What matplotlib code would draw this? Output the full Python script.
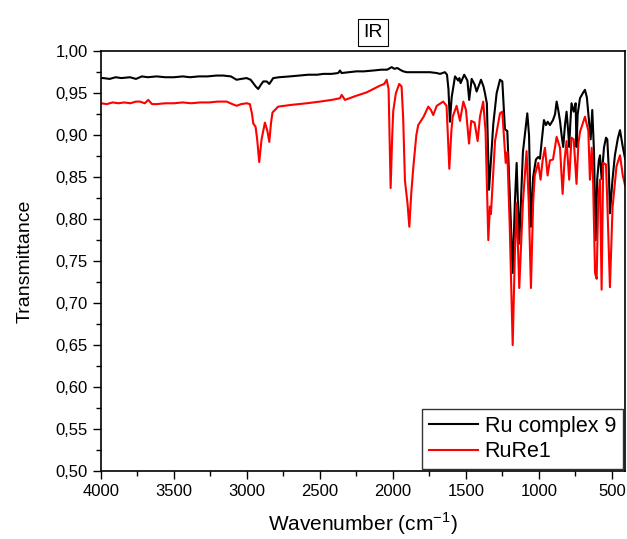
import matplotlib
matplotlib.use("Agg")
import matplotlib.pyplot as plt
from matplotlib.ticker import MultipleLocator, FuncFormatter

plt.rcParams['font.family'] = ['Liberation Sans', 'DejaVu Sans']
plt.rcParams['mathtext.fontset'] = 'custom'
plt.rcParams['mathtext.rm'] = 'Liberation Sans'

# Ru complex 9 (black) : wavenumber (cm-1), transmittance
ru_wn = [4000, 3984, 3940, 3900, 3860, 3801, 3760, 3720, 3680, 3619, 3560, 3500, 3440, 3390,
         3330, 3270, 3210, 3162, 3110, 3071, 3040, 3002, 2975, 2957, 2940, 2923, 2905, 2888,
         2865, 2847, 2820, 2780, 2705, 2640, 2580, 2520, 2477, 2420, 2375, 2363, 2352, 2300,
         2250, 2200, 2135, 2080, 2040, 2009, 1990, 1970, 1952, 1930, 1906, 1860, 1815, 1747,
         1700, 1678, 1644, 1630, 1620, 1610, 1598, 1575, 1553, 1545, 1537, 1512, 1490, 1478,
         1461, 1440, 1427, 1397, 1380, 1370, 1357, 1342, 1331, 1313, 1290, 1267, 1251, 1233,
         1217, 1200, 1180, 1165, 1153, 1135, 1110, 1080, 1068, 1055, 1040, 1021, 1005, 993,
         980, 966, 952, 940, 925, 904, 890, 879, 868, 856, 845, 834, 822, 811, 800, 793,
         785, 777, 762, 749, 743, 735, 719, 700, 685, 672, 662, 646, 635, 623, 612, 601,
         590, 582, 571, 555, 541, 532, 522, 514, 496, 480, 460, 445, 426, 410]
ru_t = [0.968, 0.968, 0.967, 0.969, 0.968, 0.969, 0.967, 0.970, 0.969, 0.970, 0.969, 0.969, 0.970, 0.969,
        0.970, 0.970, 0.971, 0.971, 0.970, 0.966, 0.967, 0.968, 0.966, 0.962, 0.958, 0.955, 0.960, 0.964,
        0.964, 0.961, 0.968, 0.969, 0.970, 0.971, 0.972, 0.972, 0.973, 0.973, 0.974, 0.977, 0.974, 0.975,
        0.976, 0.976, 0.977, 0.978, 0.978, 0.981, 0.979, 0.980, 0.978, 0.976, 0.975, 0.975, 0.975, 0.975,
        0.974, 0.973, 0.975, 0.972, 0.955, 0.916, 0.945, 0.970, 0.965, 0.968, 0.962, 0.972, 0.965, 0.942,
        0.967, 0.960, 0.952, 0.966, 0.958, 0.950, 0.938, 0.835, 0.864, 0.913, 0.950, 0.966, 0.964, 0.907,
        0.905, 0.830, 0.736, 0.820, 0.867, 0.771, 0.880, 0.926, 0.900, 0.791, 0.850, 0.871, 0.874, 0.872,
        0.895, 0.918, 0.912, 0.916, 0.912, 0.918, 0.925, 0.940, 0.930, 0.917, 0.900, 0.886, 0.912, 0.928,
        0.905, 0.886, 0.915, 0.938, 0.928, 0.938, 0.886, 0.925, 0.944, 0.950, 0.954, 0.945, 0.926, 0.895,
        0.930, 0.880, 0.775, 0.848, 0.870, 0.876, 0.848, 0.885, 0.897, 0.895, 0.860, 0.807, 0.848, 0.876,
        0.896, 0.906, 0.886, 0.872]

# RuRe1 (red)
rr_wn = [4000, 3960, 3920, 3880, 3840, 3800, 3760, 3733, 3700, 3676, 3650, 3619, 3560, 3500,
         3440, 3380, 3320, 3260, 3200, 3139, 3100, 3071, 3040, 3002, 2980, 2965, 2957, 2941,
         2930, 2916, 2900, 2877, 2860, 2847, 2835, 2825, 2786, 2700, 2591, 2500, 2420, 2363,
         2351, 2329, 2250, 2180, 2135, 2089, 2060, 2043, 2030, 2016, 2005, 1998, 1980, 1957,
         1941, 1930, 1918, 1900, 1888, 1875, 1861, 1840, 1827, 1790, 1758, 1740, 1724, 1700,
         1656, 1633, 1614, 1600, 1591, 1564, 1541, 1518, 1500, 1479, 1464, 1441, 1420, 1404,
         1382, 1366, 1347, 1336, 1329, 1301, 1267, 1251, 1228, 1217, 1200, 1180, 1165, 1153,
         1135, 1110, 1085, 1070, 1055, 1040, 1029, 1005, 989, 975, 959, 941, 925, 904,
         879, 856, 838, 825, 811, 793, 777, 762, 743, 730, 719, 685, 662, 651, 639, 630,
         623, 616, 605, 594, 582, 571, 560, 541, 532, 514, 496, 469, 445, 426, 417, 410]
rr_t = [0.938, 0.937, 0.939, 0.938, 0.939, 0.938, 0.940, 0.940, 0.938, 0.942, 0.937, 0.937, 0.938, 0.938,
        0.939, 0.938, 0.939, 0.939, 0.940, 0.940, 0.937, 0.935, 0.937, 0.938, 0.937, 0.925, 0.914, 0.910,
        0.895, 0.868, 0.895, 0.915, 0.905, 0.892, 0.915, 0.927, 0.934, 0.936, 0.938, 0.940, 0.942, 0.944,
        0.948, 0.942, 0.947, 0.951, 0.955, 0.959, 0.961, 0.966, 0.955, 0.837, 0.900, 0.929, 0.950, 0.961,
        0.958, 0.920, 0.846, 0.818, 0.791, 0.830, 0.861, 0.900, 0.912, 0.922, 0.934, 0.930, 0.924, 0.935,
        0.940, 0.935, 0.860, 0.905, 0.922, 0.935, 0.917, 0.940, 0.930, 0.890, 0.917, 0.915, 0.893, 0.922,
        0.940, 0.905, 0.775, 0.815, 0.806, 0.893, 0.926, 0.928, 0.867, 0.880, 0.790, 0.650, 0.760, 0.819,
        0.718, 0.820, 0.881, 0.820, 0.718, 0.820, 0.852, 0.867, 0.847, 0.870, 0.885, 0.852, 0.870, 0.871,
        0.898, 0.885, 0.830, 0.870, 0.893, 0.847, 0.897, 0.895, 0.842, 0.890, 0.904, 0.922, 0.905, 0.847,
        0.885, 0.850, 0.790, 0.736, 0.729, 0.824, 0.847, 0.716, 0.867, 0.865, 0.820, 0.719, 0.814, 0.863,
        0.876, 0.852, 0.845, 0.840]

series_names = ['Ru complex 9', 'RuRe1']

fig = plt.figure(figsize=(6.27, 5.39), dpi=100)
ax = fig.add_axes([0.161, 0.126, 0.836, 0.779])

ax.plot(ru_wn, ru_t, color='black', lw=1.5, label=series_names[0])
ax.plot(rr_wn, rr_t, color='#ff0000', lw=1.5, label=series_names[1])

ax.set_xlim(4000, 410)
ax.set_ylim(0.50, 1.00)
ax.xaxis.set_major_locator(MultipleLocator(500))
ax.xaxis.set_minor_locator(MultipleLocator(250))
ax.yaxis.set_major_locator(MultipleLocator(0.05))
ax.yaxis.set_minor_locator(MultipleLocator(0.025))
ax.yaxis.set_major_formatter(FuncFormatter(lambda v, p: f"{v:.2f}".replace('.', ',')))
ax.tick_params(which='major', direction='out', length=6, width=1, labelsize=12)
ax.tick_params(which='minor', direction='out', length=3.5, width=1)
for s in ax.spines.values():
    s.set_linewidth(1.2)

ax.set_xlabel('Wavenumber (cm$^{\\mathregular{-1}}$)', fontsize=15, labelpad=8)
ax.set_ylabel('Transmittance', fontsize=14, labelpad=16)

ax.text(0.519, 1.045, 'IR', transform=ax.transAxes, ha='center', va='center', fontsize=14,
        bbox=dict(boxstyle='square,pad=0.25', facecolor='white', edgecolor='black', lw=0.8))

leg = ax.legend(loc='lower right', fontsize=15.5, frameon=True, fancybox=False, edgecolor='black',
                borderpad=0.3, handlelength=2.3, handletextpad=0.3, labelspacing=0.2,
                borderaxespad=0.12)
leg.get_frame().set_linewidth(1.0)

fig.savefig('out.png', dpi=100)
